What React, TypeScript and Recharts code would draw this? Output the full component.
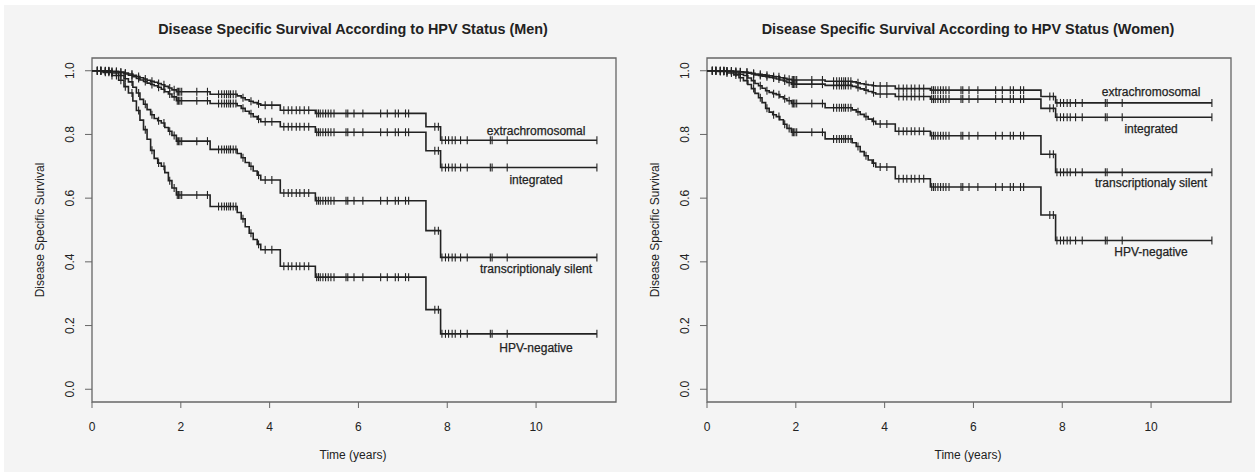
import { ComposedChart, Line, Scatter, XAxis, YAxis, ReferenceArea } from "recharts";

// Shared event times (years) where the fitted curves step down
const eventTimes = [
  0, 0.25, 0.45, 0.6, 0.72, 0.82, 0.92, 1.0, 1.08, 1.16, 1.24, 1.32, 1.4, 1.48, 1.56, 1.64,
  1.72, 1.8, 1.9, 2.66, 3.27, 3.36, 3.45, 3.54, 3.63, 3.72, 3.8, 4.24, 5.03, 7.52, 7.85, 11.37,
];

// Censoring times, drawn as small vertical ticks on each curve
const censorTimes = [
  0.12, 0.2, 0.3, 0.38, 0.45, 0.55, 0.65, 0.75, 0.9, 1.05, 1.2, 1.35, 1.5, 1.62, 1.75, 1.85,
  1.92, 1.95, 1.98, 2.02, 2.36, 2.6, 2.85, 2.92, 2.98, 3.03, 3.08, 3.12, 3.18, 3.24, 3.4, 3.58,
  3.75, 3.9, 4.05, 4.32, 4.42, 4.5, 4.6, 4.68, 4.78, 4.88, 5.06, 5.1, 5.14, 5.2, 5.26, 5.32,
  5.38, 5.45, 5.72, 5.76, 5.9, 6.1, 6.5, 6.65, 6.83, 6.9, 7.06, 7.13, 7.72, 7.8, 7.88, 7.96,
  8.03, 8.11, 8.18, 8.3, 8.45, 8.97, 9.01, 9.35, 11.37,
];

const groupNames = ["extrachromosomal", "integrated", "transcriptionaly silent", "HPV-negative"];

const menExtra = [
  1, 1, 0.998, 0.996, 0.993, 0.99, 0.986, 0.982, 0.978, 0.974, 0.97, 0.967, 0.964, 0.96, 0.956, 0.951,
  0.946, 0.94, 0.934, 0.926, 0.921, 0.915, 0.909, 0.904, 0.9, 0.896, 0.892, 0.876, 0.866, 0.824, 0.782, 0.782,
];
const menIntegrated = [
  1, 0.999, 0.997, 0.994, 0.99, 0.986, 0.981, 0.976, 0.971, 0.966, 0.961, 0.957, 0.953, 0.948, 0.942, 0.934,
  0.927, 0.918, 0.906, 0.897, 0.89, 0.882, 0.873, 0.865, 0.856, 0.848, 0.84, 0.824, 0.807, 0.749, 0.696, 0.696,
];
const menSilent = [
  1, 0.998, 0.993, 0.985, 0.975, 0.965, 0.948, 0.93, 0.91, 0.895, 0.878, 0.862, 0.85, 0.843, 0.836, 0.822,
  0.81, 0.797, 0.779, 0.753, 0.74, 0.727, 0.712, 0.7, 0.685, 0.672, 0.657, 0.616, 0.592, 0.498, 0.414, 0.414,
];
const menNegative = [
  1, 0.995, 0.985, 0.97, 0.95, 0.93, 0.905, 0.875, 0.845, 0.815, 0.785, 0.75, 0.725, 0.71, 0.7, 0.68,
  0.655, 0.632, 0.61, 0.574, 0.555, 0.535, 0.51, 0.49, 0.47, 0.455, 0.438, 0.386, 0.352, 0.25, 0.174, 0.174,
];

const womenExtra = [
  1, 1, 0.999, 0.998, 0.997, 0.996, 0.994, 0.992, 0.99, 0.989, 0.987, 0.986, 0.984, 0.982, 0.981, 0.978,
  0.976, 0.973, 0.971, 0.967, 0.965, 0.962, 0.959, 0.957, 0.955, 0.953, 0.952, 0.944, 0.939, 0.919, 0.899, 0.899,
];
const womenIntegrated = [
  1, 1, 0.999, 0.997, 0.996, 0.994, 0.992, 0.99, 0.987, 0.985, 0.983, 0.981, 0.979, 0.977, 0.974, 0.971,
  0.968, 0.963, 0.958, 0.954, 0.951, 0.947, 0.943, 0.939, 0.935, 0.931, 0.927, 0.919, 0.911, 0.882, 0.854, 0.854,
];
const womenSilent = [
  1, 0.999, 0.997, 0.993, 0.989, 0.985, 0.977, 0.969, 0.96, 0.953, 0.945, 0.937, 0.932, 0.928, 0.925, 0.918,
  0.912, 0.906, 0.897, 0.884, 0.877, 0.871, 0.863, 0.856, 0.848, 0.841, 0.833, 0.81, 0.796, 0.738, 0.681, 0.681,
];
const womenNegative = [
  1, 0.998, 0.993, 0.987, 0.978, 0.969, 0.957, 0.944, 0.929, 0.915, 0.9, 0.882, 0.87, 0.862, 0.856, 0.846,
  0.832, 0.819, 0.807, 0.786, 0.774, 0.762, 0.746, 0.733, 0.72, 0.71, 0.698, 0.661, 0.635, 0.547, 0.467, 0.467,
];

// Curve label anchors (time, survival)
const labelTime = 10;
const menLabelY = [0.81, 0.657, 0.378, 0.128];
const womenLabelY = [0.934, 0.817, 0.647, 0.43];

const xTicks = [0, 2, 4, 6, 8, 10];
const yTicks = [0, 0.2, 0.4, 0.6, 0.8, 1];

const FONT = '"Liberation Sans", Arial, Helvetica, sans-serif';
const INK = "#222";
const AXIS = "#666";
const TEXT = "#222";

const stepAt = (values: number[], t: number) => {
  let v = values[0];
  for (let i = 0; i < eventTimes.length; i++) if (eventTimes[i] <= t) v = values[i];
  return v;
};

const curvePoints = (values: number[]) => eventTimes.map((t, i) => ({ t, s: values[i] }));
const censorPoints = (values: number[]) => censorTimes.map((t) => ({ t, s: stepAt(values, t) }));

const CensorMark = (props: any) => {
  const { cx, cy } = props;
  if (cx == null || cy == null) return null;
  return <line x1={cx} x2={cx} y1={cy - 4} y2={cy + 4} stroke={INK} strokeWidth={1.1} />;
};

const CurveLabel = (props: any) => {
  const { cx, cy, payload } = props;
  if (cx == null || cy == null) return null;
  return (
    <text
      x={cx}
      y={cy}
      textAnchor="middle"
      dominantBaseline="central"
      fontSize={12}
      fontFamily={FONT}
      fill={TEXT}
      stroke={TEXT}
      strokeWidth={0.25}
    >
      {payload.name}
    </text>
  );
};

const XTick = (props: any) => {
  const { x, y, payload } = props;
  return (
    <text x={x} y={y + 17} textAnchor="middle" dominantBaseline="central" fontSize={12} fontFamily={FONT} fill={TEXT}>
      {payload.value}
    </text>
  );
};

const YTick = (props: any) => {
  const { x, y, payload } = props;
  const lx = x - 13;
  return (
    <text
      x={lx}
      y={y}
      transform={`rotate(-90 ${lx} ${y})`}
      textAnchor="middle"
      dominantBaseline="central"
      fontSize={12}
      fontFamily={FONT}
      fill={TEXT}
    >
      {Number(payload.value).toFixed(1)}
    </text>
  );
};

type PanelProps = {
  title: string;
  curves: number[][];
  labelY: number[];
  left: number;
};

function SurvivalPanel({ title, curves, labelY, left }: PanelProps) {
  const labels = groupNames.map((name, i) => ({ t: labelTime, s: labelY[i], name }));
  return (
    <div style={{ position: "absolute", left, top: 0, width: 625, height: 474, fontFamily: FONT, color: TEXT }}>
      <div
        style={{
          position: "absolute",
          left: 353,
          top: 29,
          transform: "translate(-50%, -50%)",
          whiteSpace: "nowrap",
          fontSize: 14.4,
          fontWeight: "bold",
        }}
      >
        {title}
      </div>
      <div
        style={{
          position: "absolute",
          left: 40,
          top: 230,
          transform: "translate(-50%, -50%) rotate(-90deg)",
          whiteSpace: "nowrap",
          fontSize: 12,
        }}
      >
        Disease Specific Survival
      </div>
      <div
        style={{
          position: "absolute",
          left: 353,
          top: 455,
          transform: "translate(-50%, -50%)",
          whiteSpace: "nowrap",
          fontSize: 12,
        }}
      >
        Time (years)
      </div>
      <div style={{ position: "absolute", left: 0, top: 0 }}>
        <ComposedChart width={625} height={474} margin={{ top: 58, right: 9, bottom: 0, left: 0 }}>
          <XAxis
            type="number"
            dataKey="t"
            domain={[0, 11.8]}
            ticks={xTicks}
            interval={0}
            allowDataOverflow
            axisLine={false}
            tickSize={6}
            tickLine={{ stroke: AXIS }}
            tick={<XTick />}
            height={72}
          />
          <YAxis
            type="number"
            dataKey="s"
            domain={[-0.04, 1.04]}
            ticks={yTicks}
            interval={0}
            allowDataOverflow
            axisLine={false}
            tickSize={7}
            tickLine={{ stroke: AXIS }}
            tick={<YTick />}
            width={92}
          />
          <ReferenceArea x1={0} x2={11.8} y1={-0.04} y2={1.04} fill="none" stroke={AXIS} strokeWidth={1.3} />
          {curves.map((values, i) => (
            <Line
              key={`line-${i}`}
              data={curvePoints(values)}
              dataKey="s"
              type="stepAfter"
              stroke={INK}
              strokeWidth={1.6}
              dot={false}
              isAnimationActive={false}
            />
          ))}
          {curves.map((values, i) => (
            <Scatter
              key={`censor-${i}`}
              data={censorPoints(values)}
              dataKey="s"
              shape={<CensorMark />}
              isAnimationActive={false}
            />
          ))}
          <Scatter data={labels} dataKey="s" shape={<CurveLabel />} isAnimationActive={false} />
        </ComposedChart>
      </div>
    </div>
  );
}

export default function App() {
  return (
    <div style={{ position: "absolute", left: 0, top: 0, width: 1259, height: 474, background: "#fff" }}>
      <div style={{ position: "absolute", left: 4, top: 5, right: 4, bottom: 2, background: "#f4f4f4" }} />
      <SurvivalPanel
        title="Disease Specific Survival According to HPV Status (Men)"
        curves={[menExtra, menIntegrated, menSilent, menNegative]}
        labelY={menLabelY}
        left={0}
      />
      <SurvivalPanel
        title="Disease Specific Survival According to HPV Status (Women)"
        curves={[womenExtra, womenIntegrated, womenSilent, womenNegative]}
        labelY={womenLabelY}
        left={615}
      />
    </div>
  );
}
